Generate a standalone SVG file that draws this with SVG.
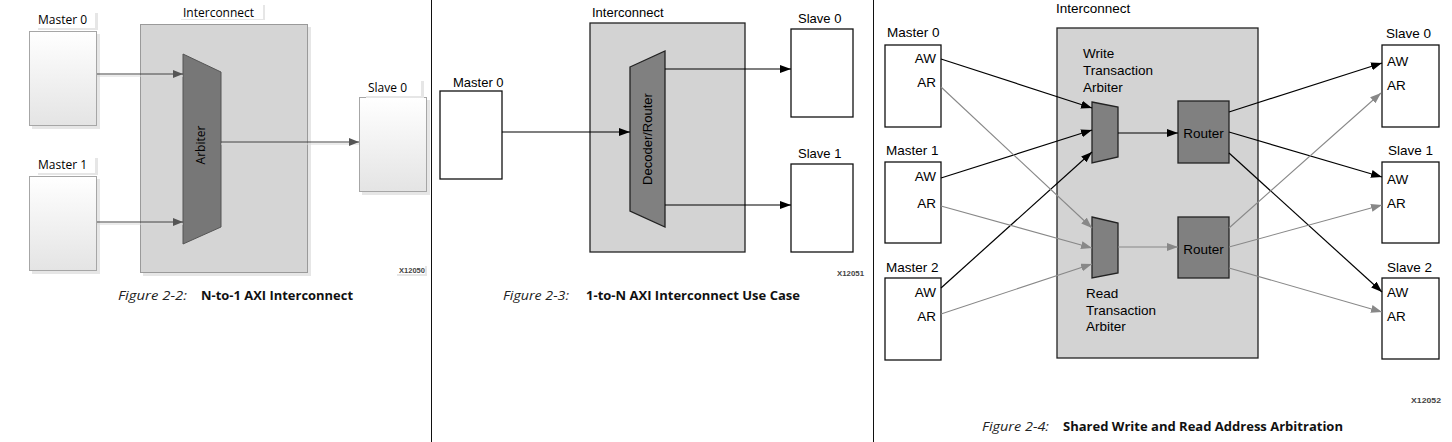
<svg xmlns="http://www.w3.org/2000/svg" width="1452" height="442" viewBox="0 0 1452 442">
<defs>
  <linearGradient id="boxgrad" x1="0" y1="0" x2="0" y2="1">
    <stop offset="0" stop-color="#ffffff"/>
    <stop offset="1" stop-color="#e4e4e4"/>
  </linearGradient>
  <marker id="ah1" markerUnits="userSpaceOnUse" markerWidth="12" markerHeight="10" refX="10" refY="4" orient="auto">
    <path d="M0,0 L10,4 L0,8 Z" fill="#555"/>
  </marker>
  <marker id="ahb" markerUnits="userSpaceOnUse" markerWidth="12" markerHeight="10" refX="11" refY="4" orient="auto">
    <path d="M0,0 L11,4 L0,8 Z" fill="#000"/>
  </marker>
  <marker id="ahg" markerUnits="userSpaceOnUse" markerWidth="12" markerHeight="10" refX="11" refY="4" orient="auto">
    <path d="M0,0 L11,4 L0,8 Z" fill="#888"/>
  </marker>
</defs>
<style>
  .p1 { font-family: "Open Sans", "Liberation Sans", sans-serif; font-size: 12px; fill: #000; }
  .p2 { font-family: "Liberation Sans", Arial, sans-serif; font-size: 13px; fill: #000; }
  .p3 { font-family: "Liberation Sans", Arial, sans-serif; font-size: 13.5px; fill: #000; }
  .xid { font-family: "Liberation Sans", Arial, sans-serif; font-size: 7.5px; font-weight: bold; fill: #444; }
  .capi { font-family: "Open Sans", "Liberation Sans", sans-serif; font-size: 12px; font-style: italic; fill: #222; }
  .capb { font-family: "Open Sans", "Liberation Sans", sans-serif; font-size: 12px; font-weight: bold; fill: #111; }
  .m1box { fill: url(#boxgrad); stroke: #a6a6a6; stroke-width: 1; }
  .shadow { fill: #e6e6e6; }
  .lblbg { fill: #ffffff; }
  .wbox { fill: #ffffff; stroke: #111; stroke-width: 1.3; }
  .gbox { fill: #d3d3d3; stroke: #222; stroke-width: 1.3; }
  .dark { fill: #808080; stroke: #222; stroke-width: 1.3; }
  .c1 { stroke: #444; stroke-width: 1; fill: none; }
  .c1s { stroke: #d8d8d8; stroke-width: 1; fill: none; }
  .cb { stroke: #000; stroke-width: 1.2; fill: none; }
  .cg { stroke: #888; stroke-width: 1.1; fill: none; }
  .sep { stroke: #111; stroke-width: 1; }
</style>

<!-- panel separators -->
<g id="separators">
  <line class="sep" x1="431.5" y1="0" x2="431.5" y2="442"/>
  <line class="sep" x1="873.5" y1="0" x2="873.5" y2="442"/>
</g>

<!-- ================= Panel 1 ================= -->
<g id="p1-interconnect">
  <rect x="143" y="27" width="168" height="249" class="shadow"/>
  <rect x="140.5" y="24.5" width="167" height="248" fill="#d5d5d5" stroke="#9a9a9a" stroke-width="1"/>
  <rect x="181" y="5" width="84" height="15" class="shadow"/>
  <rect x="180" y="4" width="83" height="15" class="lblbg"/>
  <text class="p1" x="183" y="17">Interconnect</text>
</g>
<g id="p1-master0">
  <rect x="32" y="34" width="68" height="95" class="shadow"/>
  <rect x="29.5" y="31.5" width="67" height="94" class="m1box"/>
  <rect x="38" y="13" width="60" height="17" class="shadow"/>
  <rect x="36" y="12" width="59" height="16" class="lblbg"/>
  <text class="p1" x="38" y="24">Master 0</text>
</g>
<g id="p1-master1">
  <rect x="32" y="179" width="68" height="95" class="shadow"/>
  <rect x="29.5" y="176.5" width="67" height="94" class="m1box"/>
  <rect x="38" y="158" width="60" height="17" class="shadow"/>
  <rect x="36" y="157" width="59" height="16" class="lblbg"/>
  <text class="p1" x="38" y="169">Master 1</text>
</g>
<g id="p1-slave0">
  <rect x="362" y="100" width="68" height="95" class="shadow"/>
  <rect x="359.5" y="97.5" width="67" height="94" class="m1box"/>
  <rect x="366" y="81" width="58" height="17" class="shadow"/>
  <rect x="364" y="80" width="57" height="16" class="lblbg"/>
  <text class="p1" x="368" y="92">Slave 0</text>
</g>
<g id="p1-arbiter">
  <polygon points="183,54 221,72 221,227 183,244" fill="#777" stroke="#555" stroke-width="1"/>
  <text class="p1" x="0" y="0" text-anchor="middle" font-size="12.5" transform="translate(205,145) rotate(-90)">Arbiter</text>
</g>
<g id="p1-connectors">
  <line class="c1s" x1="97" y1="76" x2="183" y2="76"/>
  <line class="c1" x1="97" y1="74" x2="183" y2="74" marker-end="url(#ah1)"/>
  <line class="c1s" x1="97" y1="224" x2="183" y2="224"/>
  <line class="c1" x1="97" y1="222" x2="183" y2="222" marker-end="url(#ah1)"/>
  <line class="c1s" x1="221" y1="144" x2="359" y2="144"/>
  <line class="c1" x1="221" y1="142" x2="359" y2="142" marker-end="url(#ah1)"/>
</g>
<g id="p1-caption">
  <rect x="397" y="266" width="30" height="10" class="shadow"/>
  <rect x="395" y="265" width="30" height="9" class="lblbg"/>
  <text class="xid" x="399" y="273" textLength="26" lengthAdjust="spacingAndGlyphs">X12050</text>
  <text class="capi" x="118" y="300" textLength="69" lengthAdjust="spacingAndGlyphs">Figure 2-2:</text>
  <text class="capb" x="201" y="300" textLength="152" lengthAdjust="spacingAndGlyphs">N-to-1 AXI Interconnect</text>
</g>

<!-- ================= Panel 2 ================= -->
<g id="p2-interconnect">
  <rect x="590" y="23" width="155" height="229" class="gbox"/>
  <text class="p2" x="592" y="17">Interconnect</text>
</g>
<g id="p2-master0">
  <rect x="440" y="91" width="62" height="88" class="wbox"/>
  <text class="p2" x="453" y="87">Master 0</text>
</g>
<g id="p2-slave0">
  <rect x="791" y="29" width="62" height="88" class="wbox"/>
  <text class="p2" x="798" y="23">Slave 0</text>
</g>
<g id="p2-slave1">
  <rect x="791" y="164" width="62" height="88" class="wbox"/>
  <text class="p2" x="798" y="158">Slave 1</text>
</g>
<g id="p2-decoder">
  <polygon points="630,67 665,51 665,227 630,211" class="dark"/>
  <text class="p2" x="0" y="0" text-anchor="middle" transform="translate(652,139) rotate(-90)">Decoder/Router</text>
</g>
<g id="p2-connectors">
  <line class="cb" stroke="#222" x1="502" y1="132" x2="630" y2="132" marker-end="url(#ahb)"/>
  <line class="cb" stroke="#222" x1="665" y1="69" x2="791" y2="69" marker-end="url(#ahb)"/>
  <line class="cb" stroke="#222" x1="665" y1="205" x2="791" y2="205" marker-end="url(#ahb)"/>
</g>
<g id="p2-caption">
  <text class="xid" x="837" y="276" textLength="27" lengthAdjust="spacingAndGlyphs">X12051</text>
  <text class="capi" x="503" y="300" textLength="66" lengthAdjust="spacingAndGlyphs">Figure 2-3:</text>
  <text class="capb" x="586" y="300" textLength="214" lengthAdjust="spacingAndGlyphs">1-to-N AXI Interconnect Use Case</text>
</g>

<!-- ================= Panel 3 ================= -->
<g id="p3-interconnect">
  <rect x="1057" y="28" width="201" height="330" class="gbox"/>
  <text class="p3" x="1056" y="13">Interconnect</text>
</g>
<g id="p3-master0">
  <rect x="885" y="45" width="56" height="82" class="wbox"/>
  <text class="p3" x="887" y="37">Master 0</text>
  <text class="p3" x="936" y="63" text-anchor="end">AW</text>
  <text class="p3" x="936" y="87" text-anchor="end">AR</text>
</g>
<g id="p3-master1">
  <rect x="885" y="162" width="56" height="81" class="wbox"/>
  <text class="p3" x="886" y="155">Master 1</text>
  <text class="p3" x="936" y="181" text-anchor="end">AW</text>
  <text class="p3" x="936" y="208" text-anchor="end">AR</text>
</g>
<g id="p3-master2">
  <rect x="885" y="278" width="56" height="82" class="wbox"/>
  <text class="p3" x="886" y="272">Master 2</text>
  <text class="p3" x="936" y="297" text-anchor="end">AW</text>
  <text class="p3" x="936" y="321" text-anchor="end">AR</text>
</g>
<g id="p3-write-arbiter">
  <polygon points="1092,102 1118,107 1118,157 1092,163" class="dark"/>
  <text class="p3" x="1083" y="58">Write</text>
  <text class="p3" x="1083" y="75">Transaction</text>
  <text class="p3" x="1083" y="92">Arbiter</text>
</g>
<g id="p3-read-arbiter">
  <polygon points="1092,217 1118,223 1118,273 1092,278" class="dark"/>
  <text class="p3" x="1086" y="298">Read</text>
  <text class="p3" x="1086" y="315">Transaction</text>
  <text class="p3" x="1086" y="331">Arbiter</text>
</g>
<g id="p3-router-write">
  <rect x="1178" y="101" width="51" height="62" class="dark"/>
  <text class="p3" x="1203.5" y="138" text-anchor="middle">Router</text>
</g>
<g id="p3-router-read">
  <rect x="1178" y="217" width="51" height="61" class="dark"/>
  <text class="p3" x="1203.5" y="254" text-anchor="middle">Router</text>
</g>
<g id="p3-slave0">
  <rect x="1382" y="45" width="57" height="82" class="wbox"/>
  <text class="p3" x="1386" y="38">Slave 0</text>
  <text class="p3" x="1387" y="66">AW</text>
  <text class="p3" x="1387" y="90">AR</text>
</g>
<g id="p3-slave1">
  <rect x="1382" y="162" width="57" height="81" class="wbox"/>
  <text class="p3" x="1388" y="155">Slave 1</text>
  <text class="p3" x="1387" y="184">AW</text>
  <text class="p3" x="1387" y="208">AR</text>
</g>
<g id="p3-slave2">
  <rect x="1382" y="278" width="57" height="81" class="wbox"/>
  <text class="p3" x="1387" y="272">Slave 2</text>
  <text class="p3" x="1387" y="297">AW</text>
  <text class="p3" x="1387" y="321">AR</text>
</g>
<g id="p3-connectors">
  <!-- masters to write arbiter -->
  <line class="cb" x1="941" y1="59" x2="1092" y2="108" marker-end="url(#ahb)"/>
  <line class="cb" x1="941" y1="178" x2="1092" y2="130" marker-end="url(#ahb)"/>
  <line class="cb" x1="941" y1="288" x2="1092" y2="152" marker-end="url(#ahb)"/>
  <!-- masters to read arbiter -->
  <line class="cg" x1="941" y1="87" x2="1092" y2="228" marker-end="url(#ahg)"/>
  <line class="cg" x1="941" y1="206" x2="1092" y2="248" marker-end="url(#ahg)"/>
  <line class="cg" x1="941" y1="314" x2="1092" y2="264" marker-end="url(#ahg)"/>
  <!-- arbiters to routers -->
  <line class="cb" x1="1118" y1="133" x2="1178" y2="133" marker-end="url(#ahb)"/>
  <line class="cg" x1="1118" y1="247" x2="1178" y2="247" marker-end="url(#ahg)"/>
  <!-- write router to slaves -->
  <line class="cb" x1="1229" y1="112" x2="1382" y2="63" marker-end="url(#ahb)"/>
  <line class="cb" x1="1229" y1="132" x2="1382" y2="177" marker-end="url(#ahb)"/>
  <line class="cb" x1="1229" y1="153" x2="1382" y2="292" marker-end="url(#ahb)"/>
  <!-- read router to slaves -->
  <line class="cg" x1="1229" y1="228" x2="1381" y2="93" marker-end="url(#ahg)"/>
  <line class="cg" x1="1229" y1="247" x2="1382" y2="205" marker-end="url(#ahg)"/>
  <line class="cg" x1="1229" y1="268" x2="1382" y2="312" marker-end="url(#ahg)"/>
</g>
<g id="p3-caption">
  <text class="xid" x="1411" y="403" textLength="30" lengthAdjust="spacingAndGlyphs">X12052</text>
  <text class="capi" x="982" y="431" textLength="67" lengthAdjust="spacingAndGlyphs">Figure 2-4:</text>
  <text class="capb" x="1063" y="431" textLength="280" lengthAdjust="spacingAndGlyphs">Shared Write and Read Address Arbitration</text>
</g>
</svg>
